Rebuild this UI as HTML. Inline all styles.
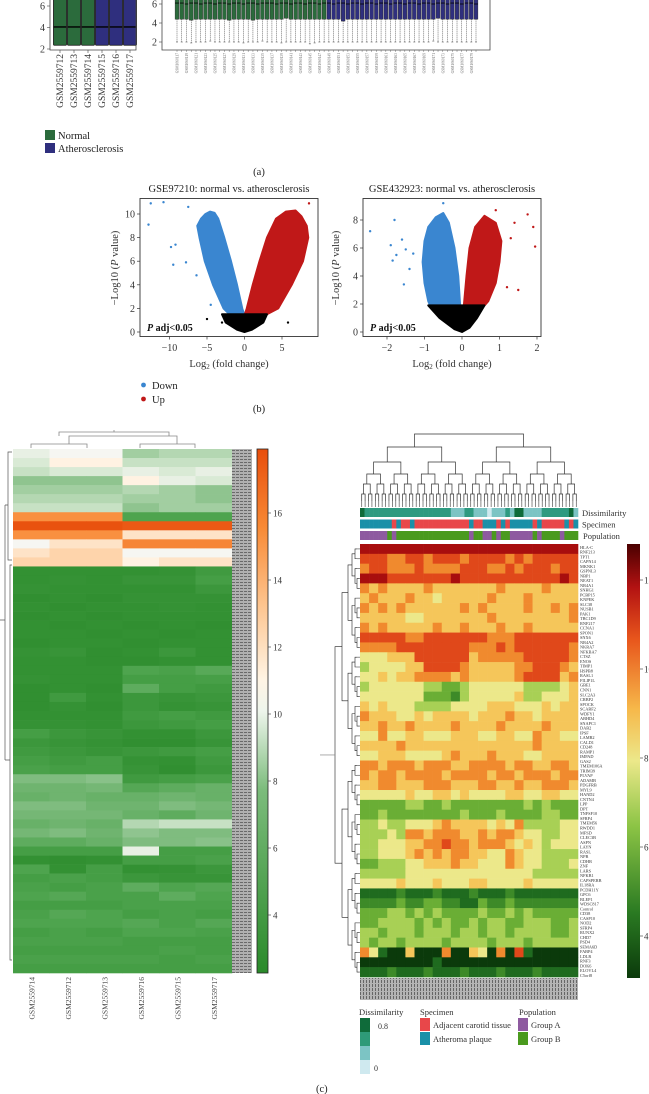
<!DOCTYPE html>
<html><head><meta charset="utf-8"><style>
html,body{margin:0;padding:0;background:#fff;}
svg{display:block;font-family:"Liberation Serif",serif;}
</style></head><body>
<svg id="fig" width="649" height="1094" viewBox="0 0 649 1094" xmlns="http://www.w3.org/2000/svg">
<defs>
<pattern id="lbl" width="4" height="3" patternUnits="userSpaceOnUse"><rect width="4" height="3" fill="#b0b0b0"/><rect width="3" height="1" fill="#6a6a6a"/></pattern>
<pattern id="lbl2" width="3" height="4" patternUnits="userSpaceOnUse"><rect width="3" height="4" fill="#b4b4b4"/><rect width="1" height="3" fill="#666"/></pattern>
<linearGradient id="lcb" x1="0" y1="1" x2="0" y2="0">
<stop offset="0" stop-color="#2a8a2a"/><stop offset="0.35" stop-color="#7cbc7c"/><stop offset="0.5" stop-color="#eef5ec"/><stop offset="0.56" stop-color="#fff4e4"/><stop offset="0.7" stop-color="#fdc590"/><stop offset="0.85" stop-color="#f88a35"/><stop offset="1" stop-color="#e84e0c"/></linearGradient>
<linearGradient id="rcb" x1="0" y1="1" x2="0" y2="0">
<stop offset="0" stop-color="#0b3a0b"/><stop offset="0.15" stop-color="#2a7a22"/><stop offset="0.35" stop-color="#8cc445"/><stop offset="0.5" stop-color="#ece88a"/><stop offset="0.62" stop-color="#f6b84a"/><stop offset="0.78" stop-color="#e8561c"/><stop offset="0.9" stop-color="#b31212"/><stop offset="1" stop-color="#4a0000"/></linearGradient>
</defs>
<g id="root"></g>
</svg>
<script>
// ---------- DATA ----------
const leftSamples=["GSM2559712","GSM2559713","GSM2559714","GSM2559715","GSM2559716","GSM2559717"];
const leftGroup=["N","N","N","A","A","A"];
const leftQ1=[2.35,2.35,2.35,2.35,2.35,2.35];
const leftMed=[4.05,4.05,4.05,4.05,4.05,4.05];
const leftQ3=[6.8,6.8,6.8,6.8,6.8,6.8];
const rightMed=[6.1,6.1,6.0,6.1,6.1,6.0,6.1,6.1,6.0,6.1,6.1,6.0,6.1,6.1,6.0,6.1,6.1,6.0,6.1,6.1,6.1,6.0,6.1,6.1,6.0,6.1,6.1,6.0,6.1,6.1,6.0,6.1,6.1,6.0,6.1,6.1,6.0,6.1,6.1,6.0,6.1,6.1,6.0,6.1,6.1,6.0,6.1,6.1,6.0,6.1,6.1,6.0,6.1,6.1,6.0,6.1,6.1,6.0,6.1,6.1,6.0,6.1,6.1,6.0];
const rightQ1=[4.4,4.4,4.4,4.3,4.4,4.4,4.4,4.4,4.4,4.4,4.4,4.3,4.4,4.4,4.4,4.4,4.3,4.4,4.4,4.4,4.4,4.4,4.4,4.5,4.4,4.4,4.4,4.4,4.4,4.4,4.4,4.4,4.4,4.4,4.4,4.2,4.4,4.4,4.4,4.4,4.4,4.4,4.4,4.4,4.4,4.4,4.4,4.4,4.4,4.4,4.4,4.4,4.4,4.4,4.4,4.5,4.4,4.4,4.4,4.4,4.4,4.4,4.4,4.4];
const rightMin=[2,2,2,1.9,2,2,2,2.1,2,2,2,2,2,2,1.9,2,2,2,2.1,2,2,2,1.9,2,2,2,2,2,1.8,1.9,2,2,2,2,2,2,2,2,2,2,2,2,2,2,2,2,2,2,2,2,2,2,2,2,2.1,2,2,2,2,2,2,2,2,2];
const rightNormalCount=32;
const v1BlueX=[-0.05,-0.3,-1,-1.8,-2.7,-3.5,-4,-4.6,-5.2,-5.8,-6.3,-6,-5.3,-4.2,-2.8,-2];
const v1BlueY=[1.5,2,4,6,8,9.6,10.1,10.2,10,9.6,9,8,6,4,2,1.5];
const v1RedX=[0.05,0.3,1.1,2,3,4.2,5.5,6.8,7.6,8.3,8.5,7.8,6.3,4.5,3,2];
const v1RedY=[1.5,2,4,6,8,9.6,10.2,10.3,9.8,9,8,6,4,2,1.5,1.5];
const v1BlackX=[-3,-2.5,-1,0,1,2.5,3];
const v1BlackY=[1.5,0.8,0.2,0,0.2,0.8,1.5];
const v1OutX=[-12.5,-10.8,-12.8,-9.8,-9.2,-9.5,-7.5,-7.8,-6.4,7.8,8.6,7.5,6.7,-4.5,5.8,-3,3.8,-5];
const v1OutY=[10.9,11,9.1,7.2,7.4,5.7,10.6,5.9,4.8,7.5,10.9,7,5.6,2.3,0.8,0.8,2.8,1.1];
const v2BlueX=[-0.05,-0.1,-0.2,-0.35,-0.5,-0.7,-0.9,-1.0,-1.05,-1.0,-0.9,-0.85];
const v2BlueY=[1.9,4,6,7.8,8.5,8.2,7.5,6.5,5,3.5,2.2,1.9];
const v2RedX=[0.05,0.12,0.2,0.35,0.6,0.9,1.05,1.0,0.9,0.7,0.6];
const v2RedY=[1.9,4,6,7.5,8.3,7.8,6.5,5,3.5,2.2,1.9];
const v2BlackX=[-0.9,-0.6,-0.2,0,0.2,0.4,0.6];
const v2BlackY=[1.9,1,0.2,0,0.3,1,1.9];
const v2OutX=[-2.45,-1.8,-1.9,-1.6,-1.75,-1.55,-1.4,-1.3,-1.5,-1.85,1.9,1.95,1.75,1.5,1.2,1.4,1.3,0.9,-0.5];
const v2OutY=[7.2,8,6.2,6.6,5.5,3.4,4.5,5.6,5.9,5.1,7.5,6.1,8.4,3,3.2,7.8,6.7,8.7,9.2];
const lhCols=["GSM2559714","GSM2559712","GSM2559713","GSM2559716","GSM2559715","GSM2559717"];
const lhRows=[
[9.5,10,10,7.5,8,8],[9,10.5,10.5,8.5,8.5,8.5],[8.5,9,9,9.5,9,9.5],[7,7,7,10.5,9.5,9],[7.5,7.5,7.5,8,7.5,7],
[8,8,8,7.5,7.5,7],[8.5,8.5,8.5,7,7.5,7.5],[14,14,14,5,5,5],[16.8,16.8,16.8,16.5,16.5,16.5],[14,14,14,11,11,11],
[10,11,11,14.5,14.5,14.5],[11,11.5,11.5,10,10,10],[11.5,11.5,11.5,10.5,11,11],
[3.5,3.5,3.5,3.5,3.6,4.2],[3.5,3.6,3.5,3.8,3.8,4.5],[3.6,3.5,3.5,3.5,3.5,4],[3.4,3.5,3.4,3.6,3.6,3.6],[3.5,3.4,3.5,3.5,3.6,3.5],
[3.4,3.5,3.4,3.5,3.5,3.5],[3.5,3.4,3.5,3.4,3.5,3.4],[3.5,3.5,3.4,3.5,3.4,3.5],[3.4,3.5,3.5,3.4,3.5,3.5],[3.6,3.8,3.4,3.5,4,3.5],
[3.5,3.5,3.4,3.4,3.5,3.5],[3.5,3.5,3.5,5,4.8,5.3],[3.6,3.5,3.5,4.5,4.5,4.6],[3.4,3.5,3.4,5.5,4.5,4.2],[3.4,4.2,3.5,4,3.8,4],
[3.4,3.6,3.4,4,3.6,3.8],[3.5,3.5,3.5,4.2,4.5,4.2],[3.6,3.6,3.5,4,4.2,4.5],[4.5,4,3.8,3.5,3.5,4],[4,3.8,3.6,3.4,3.4,3.8],
[4.2,4,3.8,4,4.2,4.5],[4.5,4.2,4.5,3.6,3.5,4.2],[4.8,4.5,4.5,3.8,3.4,4],[6.5,6.5,6.8,4.2,4.5,4.8],[6,6,6.2,5.2,5.5,5.8],
[5.8,6,5.8,5.8,6,5.8],[6.5,6.5,6,6,6.5,6.2],[6.2,6.2,6.2,5.8,5.5,6],[5.8,6,5.8,8,8.5,8.5],[6.2,6.5,6,7,6.5,6.5],
[5.5,5.5,5.8,6.5,6.5,6.8],[4.5,4.5,4.5,9.5,4.5,4.5],[3.5,3.4,3.5,4.5,4.5,4.8],[5,3.5,4.5,3.5,3.6,4],
[4.5,4.8,4.5,4,3.8,3.8],[4.8,4.5,4.8,5.5,5,5.2],[5,5.2,4.8,4.8,5.5,5],[4.5,4.5,4.5,4.8,4.8,4.8],[4.8,5.2,5,4.5,4.8,4.5],
[5,5,5,5.2,4.8,5.2],[4.5,4.8,4.5,5,5,4.8],[4.8,4.8,4.8,4.5,4.5,4.5],[4.5,4.5,4.5,4.5,4.8,4.5],[4.8,4.8,4.8,4.8,4.5,4.8],[4.5,4.5,4.5,4.5,4.5,4.5]];
const rhRows=["cccccccccccccccccccccccc","bbbaabbabbbabbbbababbbbb","abbaaabaaaabbbaababbbabb","cccbbbbbbbcbbbbbbbbbbbcb",
"a9a9999a9999999a9999a999","9a999a99899999a999a99999","a9a9a999999a9a9999a99a9a","99999889999999a99999999a",
"a9a99999a99a999a99a99999","bbbbbaabbbbbbbaaabbbbbbb","aaaabbbbbbbbaaababbbbbba","888999bbbbbb9aaaaabbbbba",
"7888899bbbba99999aabbba9","889899aaaa9a99999abbbb9a","788888877667888888777789","888888866657888889778889",
"989888777788889998889899","a999889899998999a9989999","99a99a9999a9999a9999a999","88a8899888999889988a9988",
"9999a99999999999999a9999","8899988889a999a999889999","aa9aaa9aaa99aaaa9aa99aa9","a9aa9aaaa9aaaa9aa9aaa9aa",
"99aa999aaa999aa99a99aaa9","888889889989888899889988","666667766766666666767666","667666666667666766667766",
"778778889a9999898a777788","77787aa9aaa99a9aa9887788","7788899aabaa9aaa98987888","778889a9a9aa9988a9887777",
"6677788999a99888a9887778","777778888888888888877777","888898889888998888988888","444454445444544454444444",
"555565566554465565555555","666776767666676676766666","667777676766767766777667","776777677767767767777667",
"767767777677776777677777","a84339333a33983a3b433333","333333334333333333333333","444544454445444544454444"];
const rhGenes=["HLA-C","RNF213","TPT1","CAPN14","MKNK1","GSPNL3","NBP1","NEAT1","NR4A1","SNHG1","PCBP15","KNPEK","SLC38","NUSB1","PAK1","TBC1D9","RNF217","CCNA1","SPON1","SNX6","NR4A2","NKRA7","NFKBA7","CTSZ","ENOS","TIMP1","HSPB8","RASL1","FILIP1L","GBE1","CNN1","SLC2A3","CRBP2","SPOCK","SCARF2","WDFY1","ABHD4","SNAPC1","DAB2","IPSF","LAMB2","CALD1","CD248","RAMP1","IMPAD","GAS2","TMEM106A","TRIM39","PLVAP","ADAMB","PDGFRB","MYL9","HAND2","CNTN4","LPP","DPT","TNFSF10","SFRP4","TMEM56","RWDD1","MFSD","CLEC3B","ASPN","LAYN","RASL","NPB","CDHR","ZNF","LARS","NFKB1","CAPSPERB","IL18RA","PCDH11Y","GPC6","BLEP1","WDSC817","Control","CD38","CASP10","NOD2","SFRP4","RUNX2","CHD7","PSD4","SEMA6D","FABP4","LDLR","RNF3","DOK6","ELOVL4","C5orf8"];
const rhDiss="322222222222222222221112211101112133111122222231";
const rhSpec="AAAAAAARARRARRRRRRRRRRRRARRAAARARAAAAARARRRRRARA";
const rhPop ="PPPPPPGPGGGGGGGGGGGGGGGGPGGPPGPGGPPPPPGPGGGGPGGG";

// ---------- HELPERS ----------
const NS="http://www.w3.org/2000/svg";
const root=document.getElementById('root');
function el(tag,attrs,parent,txt){const e=document.createElementNS(NS,tag);for(const k in attrs)e.setAttribute(k,attrs[k]);if(txt!==undefined)e.textContent=txt;(parent||root).appendChild(e);return e;}
function lin(d0,d1,r0,r1){return v=>r0+(v-d0)*(r1-r0)/(d1-d0);}
function lerpC(stops,v){if(v<=stops[0][0])return stops[0][1];for(let i=1;i<stops.length;i++){if(v<=stops[i][0]){const a=stops[i-1],b=stops[i];const t=(v-a[0])/(b[0]-a[0]);const ca=hex(a[1]),cb=hex(b[1]);return `rgb(${Math.round(ca[0]+(cb[0]-ca[0])*t)},${Math.round(ca[1]+(cb[1]-ca[1])*t)},${Math.round(ca[2]+(cb[2]-ca[2])*t)})`;}}return stops[stops.length-1][1];}
function hex(h){return [parseInt(h.substr(1,2),16),parseInt(h.substr(3,2),16),parseInt(h.substr(5,2),16)];}
const lStops=[[3,"#2a8a2a"],[5,"#4ea44e"],[7,"#8fc48f"],[9,"#d9ead5"],[10,"#f6f6f2"],[10.5,"#fff2e2"],[12,"#fdc590"],[14,"#f99040"],[17,"#e84e0c"]];
const rStops=[[3,"#0b3a0b"],[4,"#1f6b1f"],[5,"#3d8a28"],[6,"#6aae35"],[7,"#a8d055"],[8,"#ece88a"],[9,"#f5c65a"],[10,"#f08a2e"],[11,"#e0481a"],[12,"#a80e0e"],[13,"#550000"]];

// ---------- (a) LEFT BOXPLOT ----------
{
const g=el('g',{});
const y=lin(2,6,49,6);const x0=52,bw=13,step=14;
leftSamples.forEach((s,i)=>{
 const cx=x0+8+i*step;const col=leftGroup[i]==="N"?"#2b6b3c":"#2f2f7e";
 const r=el('rect',{x:cx-bw/2,y:y(leftQ3[i]),width:bw,height:y(leftQ1[i])-y(leftQ3[i]),fill:col,stroke:"#111","stroke-width":0.8,rx:1},g);
 
 el('line',{x1:cx-bw/2,x2:cx+bw/2,y1:y(leftMed[i]),y2:y(leftMed[i]),stroke:"#000","stroke-width":1.4},g);
 el('line',{x1:cx,x2:cx,y1:50,y2:53,stroke:"#444","stroke-width":0.6},g);
 const t=el('text',{x:0,y:0,transform:`translate(${cx+3},54) rotate(-90)`,"text-anchor":"end","font-size":"9.5",fill:"#333"},g,s);
 
});
el('path',{d:"M50,0 V50 H136 V0",fill:"none",stroke:"#444","stroke-width":0.8},g);
[2,4,6].forEach(v=>{el('line',{x1:47,x2:50,y1:y(v),y2:y(v),stroke:"#444","stroke-width":0.6},g);el('text',{x:45,y:y(v)+3.5,"text-anchor":"end","font-size":"10",fill:"#333"},g,String(v));});
}
// ---------- (a) RIGHT BOXPLOT ----------
{
const g=el('g',{});
const y=lin(2,6,42,4);const n=rightMed.length;const x=lin(0,n-1,177,476);const bw=3.8;
for(let i=0;i<n;i++){
 const cx=x(i);const col=i<rightNormalCount?"#2b6b3c":"#2f2f7e";
 el('line',{x1:cx,x2:cx,y1:y(rightQ1[i]),y2:y(rightMin[i]),stroke:"#333","stroke-width":0.5,"stroke-dasharray":"1.2,0.8"},g);
 el('line',{x1:cx-1,x2:cx+1,y1:y(rightMin[i]),y2:y(rightMin[i]),stroke:"#333","stroke-width":0.5},g);
 const r=el('rect',{x:cx-bw/2,y:-2,width:bw,height:y(rightQ1[i])+2,fill:col,stroke:"#222","stroke-width":0.4},g);
 
 el('line',{x1:cx-bw/2,x2:cx+bw/2,y1:y(rightMed[i]),y2:y(rightMed[i]),stroke:"#000","stroke-width":0.8},g);
 el('line',{x1:cx,x2:cx,y1:50,y2:52,stroke:"#555","stroke-width":0.4},g);
 if(i%2===0){el('text',{transform:`translate(${cx+1.5},53) rotate(-90)`,"text-anchor":"end","font-size":"3.6",fill:"#666"},g,"GSM"+(1060117+i));}
}
el('path',{d:"M162,0 V50 H490 V0",fill:"none",stroke:"#444","stroke-width":0.8},g);
[2,4,6].forEach(v=>{el('line',{x1:159,x2:162,y1:y(v),y2:y(v),stroke:"#444","stroke-width":0.6},g);el('text',{x:157,y:y(v)+3.5,"text-anchor":"end","font-size":"10",fill:"#333"},g,String(v));});
}
{
const g=el('g',{});
el('rect',{x:45,y:130,width:10,height:10,fill:"#2b6b3c"},g);el('text',{x:58,y:139,"font-size":"10.5",fill:"#222"},g,"Normal");
el('rect',{x:45,y:143,width:10,height:10,fill:"#2f2f7e"},g);el('text',{x:58,y:152,"font-size":"10.5",fill:"#222"},g,"Atherosclerosis");
const t=el('text',{x:259,y:175,"text-anchor":"middle","font-size":"10.5",fill:"#222"},null,"(a)");
}
// ---------- (b) VOLCANO ----------
function volcano(cfg){
 const g=el('g',{});
 const {x,y}=cfg;
 const poly=(xs,ys,c)=>el('polygon',{points:xs.map((v,i)=>x(v)+","+y(ys[i])).join(" "),fill:c,stroke:c,"stroke-width":2,"stroke-linejoin":"round"},g);
 const b=poly(cfg.bx,cfg.by,"#3a86d0");
 const r=poly(cfg.rx,cfg.ry,"#c01818");
 const k=poly(cfg.kx,cfg.ky,"#000");
 cfg.ox.forEach((v,i)=>{const c=v<0?"#3a86d0":"#c01818";el('circle',{cx:x(v),cy:y(cfg.oy[i]),r:1.2,fill:(cfg.oy[i]<1.6?"#000":c)},g);});
 el('rect',{x:cfg.l,y:198.5,width:cfg.r-cfg.l,height:138,fill:"none",stroke:"#333","stroke-width":0.9},g);
 cfg.yt.forEach(v=>{el('line',{x1:cfg.l-3,x2:cfg.l,y1:y(v),y2:y(v),stroke:"#333","stroke-width":0.7},g);el('text',{x:cfg.l-5,y:y(v)+3.5,"text-anchor":"end","font-size":"10",fill:"#333"},g,String(v));});
 cfg.xt.forEach(v=>{el('line',{x1:x(v),x2:x(v),y1:336.5,y2:339.5,stroke:"#333","stroke-width":0.7},g);el('text',{x:x(v),y:351,"text-anchor":"middle","font-size":"10",fill:"#333"},g,(v<0?"\u2212"+(-v):String(v)));});
 el('text',{x:(cfg.l+cfg.r)/2,y:192,"text-anchor":"middle","font-size":"10.5",fill:"#222"},g,cfg.title);
 const xl=el('text',{x:(cfg.l+cfg.r)/2,y:367,"text-anchor":"middle","font-size":"10.5",fill:"#333"},g);
 xl.innerHTML='Log<tspan font-size="7" dy="2">2</tspan><tspan dy="-2"> (fold change)</tspan>';
 const yl=el('text',{transform:`translate(${cfg.l-cfg.yo},268) rotate(-90)`,"text-anchor":"middle","font-size":"10.5",fill:"#333"},g);
 yl.innerHTML='\u2212Log10 (<tspan font-style="italic">P</tspan> value)';
 const pa=el('text',{x:cfg.l+7,y:331,"font-size":"10","font-weight":"bold",fill:"#111"},g);
 pa.innerHTML='<tspan font-style="italic">P</tspan> adj&lt;0.05';
}
volcano({name:'volcano-gse97210',title:'GSE97210: normal vs. atherosclerosis',l:140,r:318,yo:22,x:lin(0,5,244.5,282),y:lin(0,10,332,214),
 bx:v1BlueX,by:v1BlueY,rx:v1RedX,ry:v1RedY,kx:v1BlackX,ky:v1BlackY,ox:v1OutX,oy:v1OutY,yt:[0,2,4,6,8,10],xt:[-10,-5,0,5]});
volcano({name:'volcano-gse43292',title:'GSE432923: normal vs. atherosclerosis',l:363,r:541,yo:24,x:lin(0,2,462,537),y:lin(0,8,332,220),
 bx:v2BlueX,by:v2BlueY,rx:v2RedX,ry:v2RedY,kx:v2BlackX,ky:v2BlackY,ox:v2OutX,oy:v2OutY,yt:[0,2,4,6,8],xt:[-2,-1,0,1,2]});
{
const g=el('g',{});
el('circle',{cx:143.5,cy:385,r:2.4,fill:"#3a86d0"},g);el('text',{x:152,y:389,"font-size":"10.5",fill:"#222"},g,"Down");
el('circle',{cx:143.5,cy:399,r:2.4,fill:"#c01818"},g);el('text',{x:152,y:403,"font-size":"10.5",fill:"#222"},g,"Up");
const t=el('text',{x:259,y:412,"text-anchor":"middle","font-size":"10.5",fill:"#222"},null,"(b)");
}
// ---------- (c) LEFT HEATMAP ----------
{
const g=el('g',{});
const top=449,bot=973,L=13,R=232;const nr=lhRows.length,nc=lhCols.length;const ch=(bot-top)/nr,cw=(R-L)/nc;
lhRows.forEach((row,i)=>row.forEach((v,j)=>{const c=el('rect',{x:L+j*cw,y:top+i*ch,width:cw+0.3,height:ch+0.3,fill:lerpC(lStops,v)},g);}));
el('rect',{x:232,y:top,width:20,height:bot-top,fill:"url(#lbl)"},g);
lhCols.forEach((s,j)=>{el('text',{transform:`translate(${L+j*cw+cw/2+3},977) rotate(-90)`,"text-anchor":"end","font-size":"7.5",fill:"#444"},g,s);});
el('rect',{x:257,y:449,width:11,height:524,fill:"url(#lcb)",stroke:"#222","stroke-width":0.8},g);
const cy=lin(4,16,915,513);
[4,6,8,10,12,14,16].forEach(v=>{el('line',{x1:268,x2:271,y1:cy(v),y2:cy(v),stroke:"#333","stroke-width":0.6},g);el('text',{x:273,y:cy(v)+3.5,"font-size":"9",fill:"#333"},g,String(v));});
el('path',{d:"M31,448 V444 H87 V448 M69,444 V440 M140,448 V444 H195 V448 M177,444 V440 M69,440 V436 H177 V440 M59,436 V432 H169 V436 M114,432 V430",fill:"none",stroke:"#888","stroke-width":0.8},g);
el('path',{d:"M12,452 H8 V560 H12 M8,505 H5 M12,565 H10 V960 H12 M10,760 H5 M5,505 V760 M5,620 H0",fill:"none",stroke:"#555","stroke-width":0.7},g);
}
// ---------- (c) RIGHT HEATMAP ----------
{
const g=el('g',{});
const top=544,bot=977,L=360,R=578;const nr=rhRows.length,nc=24;const ch=(bot-top)/nr,cw=(R-L)/nc;
rhRows.forEach((row,i)=>{for(let j=0;j<nc;j++){const v=parseInt(row[j],16);const c=el('rect',{x:L+j*cw,y:top+i*ch,width:cw+0.3,height:ch+0.3,fill:lerpC(rStops,v)},g);}});
const gh=(bot-top)/rhGenes.length;
rhGenes.forEach((n,i)=>{el('text',{x:580,y:top+i*gh+gh,"font-size":"4.3",fill:"#333"},g,n);});
const na=rhDiss.length,aw=(R-L)/na;
const dc={"3":"#0f6b3a","2":"#2e9a80","1":"#7cc4c4","0":"#cfe9ef"};
for(let j=0;j<na;j++){
 el('rect',{x:L+j*aw,y:508,width:aw+0.3,height:9,fill:dc[rhDiss[j]]},g);
 el('rect',{x:L+j*aw,y:519.5,width:aw+0.3,height:9,fill:rhSpec[j]==="A"?"#1a90a8":"#e8474a"},g);
 el('rect',{x:L+j*aw,y:531,width:aw+0.3,height:9,fill:rhPop[j]==="P"?"#8e5aa0":"#4a9a1e"},g);
}
el('text',{x:582,y:516,"font-size":"8.5",fill:"#333"},g,"Dissimilarity");
el('text',{x:582,y:527.5,"font-size":"8.5",fill:"#333"},g,"Specimen");
el('text',{x:583,y:539,"font-size":"8.5",fill:"#333"},g,"Population");
el('rect',{x:L,y:978,width:R-L,height:22,fill:"url(#lbl2)"},g);
const heights=[434,447,462,474,484,494,501];
function dendro(a,b,lvl){const ya=heights[Math.min(lvl,heights.length-1)];if(b-a<=1||lvl>=heights.length-1){const xm=L+((a+b)/2)*((R-L)/64);el('line',{x1:xm,x2:xm,y1:ya,y2:507,stroke:"#555","stroke-width":0.7},g);return xm;}
 const m=Math.floor((a+b)/2);const x1=dendro(a,m,lvl+1),x2=dendro(m,b,lvl+1);const yc=heights[lvl+1];
 el('path',{d:`M${x1},${yc} V${ya} H${x2} V${yc}`,fill:"none",stroke:"#333","stroke-width":0.7},g);return (x1+x2)/2;}
dendro(0,64,0);
const rx=[335,342,348,352,355,357,359];
function rdendro(a,b,lvl){const xa=rx[Math.min(lvl,rx.length-1)];if(b-a<=1||lvl>=rx.length-1){const ym=top+((a+b)/2)*ch;el('line',{x1:xa,x2:360,y1:ym,y2:ym,stroke:"#444","stroke-width":0.6},g);return ym;}
 const m=Math.floor((a+b)/2);const y1=rdendro(a,m,lvl+1),y2=rdendro(m,b,lvl+1);const xc=rx[lvl+1];
 el('path',{d:`M${xc},${y1} H${xa} V${y2} H${xc}`,fill:"none",stroke:"#222","stroke-width":0.6},g);return (y1+y2)/2;}
const yr=rdendro(0,nr,0);el('line',{x1:320,x2:335,y1:yr,y2:yr,stroke:"#888","stroke-width":0.7},g);
el('rect',{x:627,y:544,width:13,height:434,fill:"url(#rcb)"},g);
const cy=lin(4,12,936,580);
[4,6,8,10,12].forEach(v=>{el('line',{x1:640,x2:643,y1:cy(v),y2:cy(v),stroke:"#333","stroke-width":0.6},g);el('text',{x:644,y:cy(v)+3.5,"font-size":"9",fill:"#333"},g,String(v));});
}
{
const g=el('g',{});
el('text',{x:359,y:1015,"font-size":"8.5",fill:"#333"},g,"Dissimilarity");
["#0f6b3a","#2e9a78","#7cc4c4","#cfe9ef"].forEach((c,i)=>el('rect',{x:360,y:1018+i*14,width:10,height:14,fill:c},g));
el('text',{x:378,y:1029,"font-size":"8",fill:"#333"},g,"0.8");
el('text',{x:374,y:1071,"font-size":"8",fill:"#333"},g,"0");
el('text',{x:420,y:1015,"font-size":"8.5",fill:"#333"},g,"Specimen");
el('rect',{x:420,y:1018,width:10,height:13,fill:"#e8474a"},g);el('text',{x:433,y:1028,"font-size":"8.5",fill:"#333"},g,"Adjacent carotid tissue");
el('rect',{x:420,y:1032,width:10,height:13,fill:"#1a90a8"},g);el('text',{x:433,y:1042,"font-size":"8.5",fill:"#333"},g,"Atheroma plaque");
el('text',{x:519,y:1015,"font-size":"8.5",fill:"#333"},g,"Population");
el('rect',{x:518,y:1018,width:10,height:13,fill:"#8e5aa0"},g);el('text',{x:531,y:1028,"font-size":"8.5",fill:"#333"},g,"Group A");
el('rect',{x:518,y:1032,width:10,height:13,fill:"#4a9a1e"},g);el('text',{x:531,y:1042,"font-size":"8.5",fill:"#333"},g,"Group B");
const t=el('text',{x:316,y:1092,"font-size":"10.5",fill:"#222"},null,"(c)");
}
</script>
</body></html>
